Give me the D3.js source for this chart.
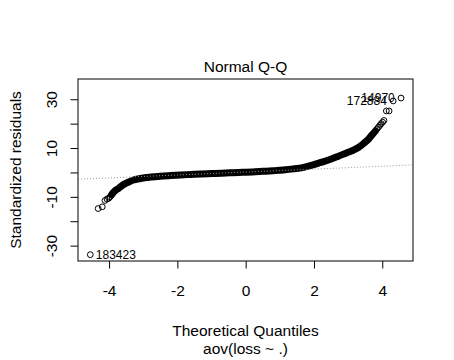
<!DOCTYPE html>
<html>
<head>
<meta charset="utf-8">
<script src="https://cdn.jsdelivr.net/npm/d3@7"></script>
<style>
  html, body { margin: 0; padding: 0; background: #fff; }
  text { font-family: "Liberation Sans", Arial, sans-serif; }
</style>
</head>
<body>
<svg id="chart" width="454" height="360"></svg>
<script>
// ---- data ----
const title = "Normal Q-Q";
const xLabel = "Theoretical Quantiles";
const subLabel = "aov(loss ~ .)";
const yLabel = "Standardized residuals";

const xTicks = [-4, -2, 0, 2, 4];
const yTicks = [-30, -20, -10, 0, 10, 20, 30];
const yTickLabels = ["-30", "", "-10", "", "10", "", "30"];

// dense central mass of points (centre of the black band)
const bandQ = [-3.92,-3.86,-3.80,-3.72,-3.63,-3.54,-3.42,-3.28,-3.12,-2.96,-2.78,-2.50,-2.20,-1.90,-1.60,-1.30,-1.00,-0.70,-0.40,-0.10,0.20,0.50,0.80,1.10,1.40,1.70,1.95,2.20,2.45,2.70,2.95,3.15,3.30,3.45,3.58,3.70,3.80];
const bandR = [-9.0,-8.0,-7.2,-6.5,-5.5,-4.7,-3.9,-3.1,-2.6,-2.2,-1.9,-1.55,-1.27,-1.02,-0.82,-0.61,-0.45,-0.29,-0.12,0.04,0.2,0.45,0.7,1.0,1.45,2.1,3.0,4.1,5.2,6.55,8.0,9.1,10.2,11.8,13.4,15.4,17.0];

// individual tail points
const tailQ = [-4.55,-4.32,-4.20,-4.12,-4.06,-4.01,-3.97,-3.93, 3.85,3.89,3.93,3.97,4.01,4.05,4.12,4.20,4.32,4.55];
const tailR = [-33.7,-14.8,-14.1,-11.5,-10.9,-10.6,-10.0,-9.3, 17.9,18.6,19.3,20.0,20.6,21.3,25.2,25.2,29.3,30.5];

// labelled extreme points
const labelIds = ["14970", "172884", "183423"];
const labelQ = [4.55, 4.32, -4.55];
const labelR = [30.5, 29.3, -33.7];

// reference line (qqline)
const qqIntercept = 0.16;
const qqSlope = 0.6;

// ---- layout ----
const svg = d3.select("#chart");
const plot = { left: 78, right: 413, top: 79, bottom: 261 };
const x = d3.scaleLinear().domain([-4.91, 4.90]).range([plot.left, plot.right]);
const y = d3.scaleLinear().domain([-36.3, 38.3]).range([plot.bottom, plot.top]);
const fs = 15.5;

svg.append("rect").attr("width", 454).attr("height", 360).attr("fill", "#fff");

svg.append("clipPath").attr("id", "clip")
  .append("rect").attr("x", plot.left).attr("y", plot.top)
  .attr("width", plot.right - plot.left).attr("height", plot.bottom - plot.top);

const g = svg.append("g").attr("clip-path", "url(#clip)");

// dense band
const band = bandQ.map((q, i) => [q, bandR[i]]);
g.append("path")
  .datum(band)
  .attr("d", d3.line().x(d => x(d[0])).y(d => y(d[1])).curve(d3.curveMonotoneX))
  .attr("fill", "none").attr("stroke", "#000")
  .attr("stroke-width", 7).attr("stroke-linecap", "round").attr("stroke-linejoin", "round");

// tail points
const tails = tailQ.map((q, i) => [q, tailR[i]]);
g.selectAll("circle.pt").data(tails).enter().append("circle")
  .attr("class", "pt")
  .attr("cx", d => x(d[0])).attr("cy", d => y(d[1])).attr("r", 2.9)
  .attr("fill", "none").attr("stroke", "#000").attr("stroke-width", 1);

// qqline
const xd = x.domain();
g.append("line")
  .attr("x1", x(xd[0])).attr("y1", y(qqIntercept + qqSlope * xd[0]))
  .attr("x2", x(xd[1])).attr("y2", y(qqIntercept + qqSlope * xd[1]))
  .attr("stroke", "#999").attr("stroke-width", 1).attr("stroke-dasharray", "1,2");

// point labels
labelIds.forEach((id, i) => {
  const onRight = labelQ[i] > 0;
  svg.append("text")
    .attr("x", x(labelQ[i]) + (onRight ? -6.3 : 5.5))
    .attr("y", y(labelR[i]))
    .attr("dy", "0.36em")
    .attr("text-anchor", onRight ? "end" : "start")
    .attr("font-size", 12)
    .attr("fill", "#000")
    .text(id);
});

// box
svg.append("rect")
  .attr("x", plot.left).attr("y", plot.top)
  .attr("width", plot.right - plot.left).attr("height", plot.bottom - plot.top)
  .attr("fill", "none").attr("stroke", "#000").attr("stroke-width", 1);

// x axis
const xAxis = svg.append("g").attr("transform", `translate(0,${plot.bottom})`)
  .call(d3.axisBottom(x).tickValues(xTicks).tickSize(7.5).tickFormat(d3.format("d")));
xAxis.select(".domain").remove();
xAxis.selectAll("line").attr("stroke", "#000");
xAxis.selectAll("text").attr("y", 35).attr("dy", null)
  .attr("font-size", fs).attr("fill", "#000")
  .style("font-family", "'Liberation Sans', Arial, sans-serif")
  .text(d => d < 0 ? "-" + Math.abs(d) : String(d));

// y axis
const yAxis = svg.append("g").attr("transform", `translate(${plot.left},0)`)
  .call(d3.axisLeft(y).tickValues(yTicks).tickSize(7.5)
    .tickFormat((d, i) => yTickLabels[i]));
yAxis.select(".domain").remove();
yAxis.selectAll("line").attr("stroke", "#000");
yAxis.selectAll("text")
  .attr("x", null).attr("y", null).attr("dy", null)
  .attr("text-anchor", "middle")
  .attr("transform", "translate(-21,0) rotate(-90)")
  .attr("font-size", fs).attr("fill", "#000")
  .style("font-family", "'Liberation Sans', Arial, sans-serif");

// title and axis labels
svg.append("text").attr("x", (plot.left + plot.right) / 2).attr("y", 72)
  .attr("text-anchor", "middle").attr("font-size", fs).attr("fill", "#000").text(title);
svg.append("text").attr("x", (plot.left + plot.right) / 2).attr("y", 336)
  .attr("text-anchor", "middle").attr("font-size", fs).attr("fill", "#000").text(xLabel);
svg.append("text").attr("x", (plot.left + plot.right) / 2).attr("y", 354)
  .attr("text-anchor", "middle").attr("font-size", fs).attr("fill", "#000").text(subLabel);
svg.append("text").attr("transform", `translate(21,${(plot.top + plot.bottom) / 2}) rotate(-90)`)
  .attr("text-anchor", "middle").attr("font-size", fs).attr("fill", "#000").text(yLabel);
</script>
</body>
</html>
